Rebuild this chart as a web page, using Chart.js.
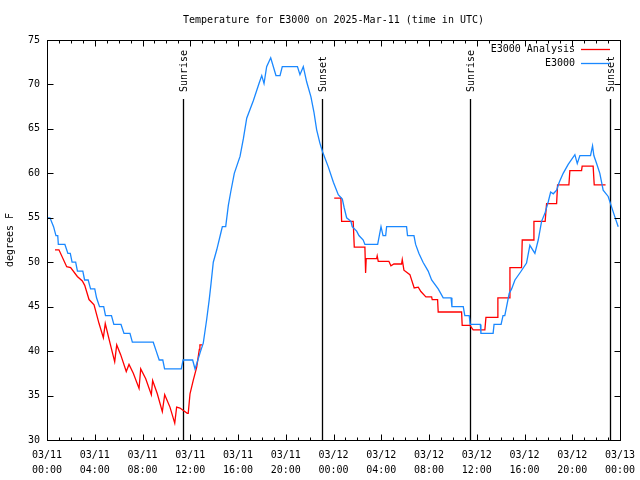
<!DOCTYPE html>
<html>
<head>
<meta charset="utf-8">
<title>Temperature for E3000</title>
<script src="https://cdn.jsdelivr.net/npm/chart.js@4/dist/chart.umd.min.js"></script>
<style>
  html, body { margin: 0; padding: 0; background: #fff; }
  canvas { display: block; }
</style>
</head>
<body>
<canvas id="tempChart" width="640" height="480"></canvas>
<script>
// hours since 03/11 00:00 UTC
const blueHours = [
  0, 0.25, 0.55, 0.75, 0.9, 0.95, 1.5, 1.75, 1.95, 2.1,
  2.4, 2.55, 3.0, 3.15, 3.45, 3.65, 4.0, 4.15, 4.4, 4.75,
  4.9, 5.4, 5.6, 6.2, 6.45, 6.95, 7.15, 8.9, 9.15, 9.4,
  9.7, 9.85, 11.25, 11.4, 12.2, 12.4, 12.55, 12.82, 13.09, 13.37,
  13.59, 13.74, 13.93, 14.22, 14.58, 14.69, 14.97, 15.19, 15.39, 15.69,
  16.17, 16.45, 16.73, 17.29, 17.76, 17.99, 18.18, 18.4, 18.74, 19.18,
  19.52, 19.71, 20.98, 21.19, 21.47, 21.75, 22.11, 22.36, 22.59, 22.86,
  23.09, 23.57, 23.99, 24.4, 24.74, 24.9, 25.1, 25.46, 25.57, 25.94,
  26.13, 26.49, 26.63, 27.7, 27.98, 28.15, 28.37, 28.45, 30.12, 30.2,
  30.74, 30.88, 31.15, 31.5, 31.93, 32.22, 32.77, 33.19, 33.85, 33.92,
  34.87, 35.0, 35.37, 35.45, 36.3, 36.35, 37.37, 37.45, 38.04, 38.2,
  38.35, 38.5, 38.72, 38.92, 39.2, 39.67, 40.17, 40.45, 40.87, 41.15,
  41.43, 41.71, 41.99, 42.19, 42.41, 42.69, 42.91, 43.24, 43.66, 44.22,
  44.42, 44.64, 45.53, 45.7, 45.81, 46.04, 46.31, 46.59, 47.01, 47.3,
  47.57, 47.85
];
const blueTemps = [
  55, 55, 54, 53, 53, 52, 52, 51, 51, 50,
  50, 49, 49, 48, 48, 47, 47, 46, 45, 45,
  44, 44, 43, 43, 42, 42, 41, 41, 40, 39,
  39, 38, 38, 39, 39, 38, 38.6, 39.8, 40.9, 43.5,
  45.8, 47.6, 50, 51.4, 53.4, 54, 54, 56.4, 57.9, 60,
  61.9, 63.9, 66.2, 68.2, 70.1, 71, 70.1, 72, 73, 71,
  71, 72, 72, 71.1, 72, 70.3, 68.6, 66.9, 64.9, 63.4,
  62.4, 60.7, 59, 57.6, 57.1, 56.1, 55, 54.6, 54, 53.5,
  53, 52.5, 52, 52, 54, 53, 53, 54, 54, 53,
  53, 52, 51, 50, 49, 48, 47, 46, 46, 45,
  45, 44, 44, 43, 43, 42, 42, 43, 43, 44,
  44, 45, 46.5, 47, 48, 48.9, 49.9, 51.9, 51, 52.5,
  54.6, 55.5, 56.8, 57.9, 57.7, 58.1, 59, 60, 61, 62.1,
  61.1, 62, 62, 63.1, 62, 61.1, 60, 58.1, 57.4, 56.2,
  55.1, 54
];

// analysis series has a gap in the afternoon
const redHours = [
  0.67, 1.0, 1.65, 1.98, 2.54, 2.96, 3.16, 3.52, 3.94, 4.36,
  4.72, 4.88, 5.28, 5.67, 5.84, 6.17, 6.64, 6.87, 7.23, 7.71,
  7.85, 8.27, 8.74, 8.85, 9.24, 9.66, 9.86, 10.3, 10.7, 10.86,
  11.14, 11.75, 11.83, 11.98, 12.25, 12.54, 12.76, 12.81, 13.0,
  18.5,
  24.06, 24.62, 24.68, 25.65, 25.74, 26.63, 26.69, 26.74, 27.61, 27.66,
  27.75, 28.64, 28.81, 29.06, 29.7, 29.76, 29.9, 30.4, 30.76, 31.1,
  31.32, 31.74, 32.22, 32.27, 32.72, 32.77, 34.73, 34.78, 35.43, 35.7,
  36.68, 36.77, 37.71, 37.77, 38.72, 38.78, 39.75, 39.81, 40.73, 40.79,
  41.73, 41.85, 42.69, 42.77, 43.72, 43.8, 44.78, 44.83, 45.75, 45.84,
  46.79
];
const redTemps = [
  51.4, 51.4, 49.5, 49.4, 48.4, 47.9, 47.4, 45.8, 45.2, 43.1,
  41.5, 43.1, 40.9, 38.8, 40.7, 39.6, 37.7, 38.5, 37.5, 35.8,
  38, 36.9, 35.1, 36.7, 35.2, 33.2, 35.1, 33.7, 31.9, 33.7,
  33.6, 33, 33, 35.2, 36.7, 38.2, 40.2, 40.7, 40.7,
  null,
  57.2, 57.2, 54.6, 54.6, 51.7, 51.7, 48.8, 50.4, 50.4, 50.7,
  50.1, 50.1, 49.6, 49.8, 49.8, 50.3, 49.1, 48.6, 47.1, 47.2,
  46.7, 46.1, 46.1, 45.8, 45.8, 44.4, 44.4, 42.9, 42.9, 42.4,
  42.4, 43.8, 43.8, 46, 46, 49.4, 49.4, 52.5, 52.5, 54.6,
  54.6, 56.6, 56.6, 58.7, 58.7, 60.3, 60.3, 60.8, 60.8, 58.7,
  58.7
];

const xTickLabels = [
  ["03/11", "00:00"], ["03/11", "04:00"], ["03/11", "08:00"], ["03/11", "12:00"],
  ["03/11", "16:00"], ["03/11", "20:00"], ["03/12", "00:00"], ["03/12", "04:00"],
  ["03/12", "08:00"], ["03/12", "12:00"], ["03/12", "16:00"], ["03/12", "20:00"],
  ["03/13", "00:00"]
];
const sunHours = [11.42, 23.03, 35.45, 47.18];
const sunLabels = ["Sunrise", "Sunset", "Sunrise", "Sunset"];

const FONT = '"DejaVu Sans Mono", "Liberation Mono", monospace';
const RED = "#ff0000";
const BLUE = "#1a88ff";
const TITLE = "Temperature for E3000 on 2025-Mar-11 (time in UTC)";

const toPoints = (xs, ys) => xs.map((x, i) => ({ x, y: ys[i] }));

// gnuplot-ish frame, inward ticks, sun markers, legend, title
const decor = {
  id: "decor",
  beforeDraw(chart) {
    const c = chart.ctx;
    c.save();
    c.fillStyle = "#fff";
    c.fillRect(0, 0, chart.width, chart.height);
    c.restore();
  },
  beforeDatasetsDraw(chart) {
    const c = chart.ctx, x = chart.scales.x, a = chart.chartArea;
    c.save();
    c.strokeStyle = "#000";
    c.lineWidth = 1.3;
    sunHours.forEach(h => {
      const px = Math.round(x.getPixelForValue(h)) + 0.5;
      c.beginPath();
      c.moveTo(px, 99);
      c.lineTo(px, a.bottom);
      c.stroke();
    });
    c.restore();
  },
  afterDraw(chart) {
    const c = chart.ctx, a = chart.chartArea;
    const xs = chart.scales.x, ys = chart.scales.y;
    c.save();
    c.strokeStyle = "#000";
    c.lineWidth = 1;
    const L = Math.round(a.left) + 0.5, R = Math.round(a.right) + 0.5;
    const T = Math.round(a.top) + 0.5, B = Math.round(a.bottom) + 0.5;
    c.strokeRect(L, T, R - L, B - T);

    c.beginPath();
    for (let h = 0; h <= 48; h++) {
      const px = Math.round(xs.getPixelForValue(h)) + 0.5;
      const len = h % 4 === 0 ? 6 : 3;
      c.moveTo(px, B); c.lineTo(px, B - len);
      c.moveTo(px, T); c.lineTo(px, T + len);
    }
    for (let v = 30; v <= 75; v += 5) {
      const py = Math.round(ys.getPixelForValue(v)) + 0.5;
      c.moveTo(L, py); c.lineTo(L + 6, py);
      c.moveTo(R, py); c.lineTo(R - 6, py);
    }
    c.stroke();

    c.fillStyle = "#000";
    c.font = "10px " + FONT;
    c.textAlign = "center";
    c.textBaseline = "middle";
    c.fillText(TITLE, (a.left + a.right) / 2, 20);

    // sunrise / sunset labels
    sunHours.forEach((h, i) => {
      const px = Math.round(xs.getPixelForValue(h)) + 1;
      c.save();
      c.translate(px, 92);
      c.rotate(-Math.PI / 2);
      c.textAlign = "left";
      c.fillText(sunLabels[i], 0, 0);
      c.restore();
    });

    // legend
    const items = [chart.data.datasets[1], chart.data.datasets[0]];
    items.forEach((ds, i) => {
      const y = 49 + i * 14;
      c.textAlign = "right";
      c.fillStyle = "#000";
      c.fillText(ds.label, 575, y);
      c.strokeStyle = ds.borderColor;
      c.lineWidth = 1.3;
      c.beginPath();
      c.moveTo(581, y + 0.5);
      c.lineTo(610, y + 0.5);
      c.stroke();
    });
    c.restore();
  }
};

new Chart(document.getElementById("tempChart"), {
  type: "line",
  data: {
    datasets: [
      {
        label: "E3000",
        data: toPoints(blueHours, blueTemps),
        borderColor: BLUE,
        borderWidth: 1.3,
        pointRadius: 0,
        tension: 0,
        order: 1
      },
      {
        label: "E3000 Analysis",
        data: toPoints(redHours, redTemps),
        borderColor: RED,
        borderWidth: 1.3,
        pointRadius: 0,
        tension: 0,
        spanGaps: false,
        order: 2
      }
    ]
  },
  options: {
    responsive: false,
    animation: false,
    devicePixelRatio: 1,
    layout: { padding: { top: 40, right: 20, bottom: 0, left: 0 } },
    plugins: {
      legend: { display: false },
      title: { display: false },
      tooltip: { enabled: false }
    },
    scales: {
      x: {
        type: "linear",
        min: 0,
        max: 48,
        grid: { display: false, drawTicks: false },
        border: { display: false },
        afterFit: s => { s.height = 40; s.paddingLeft = 0; s.paddingRight = 0; },
        ticks: {
          stepSize: 4,
          autoSkip: false,
          maxRotation: 0,
          padding: 8,
          color: "#000",
          font: { family: FONT, size: 10, lineHeight: 1.5 },
          callback: v => xTickLabels[Math.round(v / 4)]
        }
      },
      y: {
        min: 30,
        max: 75,
        grid: { display: false, drawTicks: false },
        border: { display: false },
        afterFit: s => { s.width = 47; s.paddingTop = 0; s.paddingBottom = 0; },
        ticks: {
          stepSize: 5,
          padding: 7,
          color: "#000",
          font: { family: FONT, size: 10 }
        },
        title: {
          display: true,
          text: "degrees F",
          color: "#000",
          font: { family: FONT, size: 10 },
          padding: { top: 4, bottom: 0 }
        }
      }
    }
  },
  plugins: [decor]
});
</script>
</body>
</html>
